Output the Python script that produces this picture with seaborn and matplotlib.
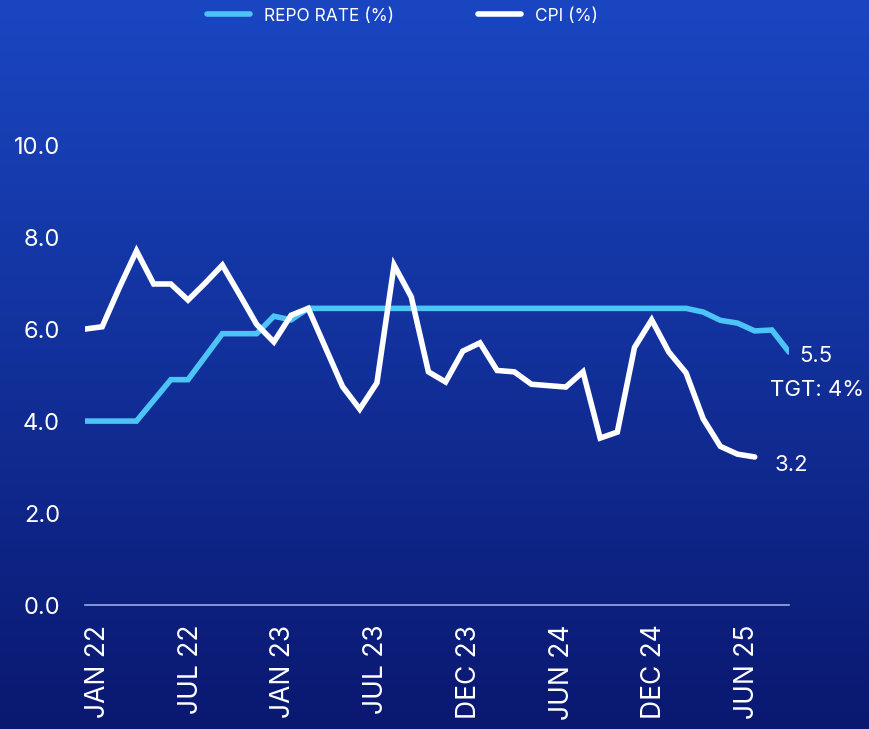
import numpy as np
import pandas as pd
import matplotlib
matplotlib.use("Agg")
from matplotlib import pyplot as plt
from matplotlib.colors import LinearSegmentedColormap
import seaborn as sns

# data (one point per period)
repo_rate = [4.0, 4.0, 4.0, 4.0, 4.45, 4.9, 4.9, 5.4, 5.9, 5.9,
             5.9, 6.28, 6.2, 6.45, 6.45, 6.45, 6.45, 6.45, 6.45, 6.45,
             6.45, 6.45, 6.45, 6.45, 6.45, 6.45, 6.45, 6.45, 6.45, 6.45,
             6.45, 6.45, 6.45, 6.45, 6.45, 6.45, 6.37, 6.19, 6.13, 5.96,
             5.98, 5.5]
cpi = [6.0, 6.05, 6.9, 7.7, 6.98, 6.98, 6.63, 7.0, 7.39, 6.75,
       6.1, 5.72, 6.3, 6.45, 5.6, 4.75, 4.26, 4.83, 7.39, 6.7,
       5.07, 4.85, 5.52, 5.7, 5.1, 5.07, 4.8, 4.77, 4.74, 5.07,
       3.63, 3.76, 5.6, 6.2, 5.5, 5.05, 4.05, 3.45, 3.28, 3.22]
tick_labels = ["JAN 22", "JUL 22", "JAN 23", "JUL 23",
               "DEC 23", "JUN 24", "DEC 24", "JUN 25"]
target_label = "TGT: 4%"
y_ticks = [0, 2, 4, 6, 8, 10]

repo_df = pd.DataFrame({"period": np.arange(len(repo_rate)), "value": repo_rate})
cpi_df = pd.DataFrame({"period": np.arange(len(cpi)), "value": cpi})

sns.set_theme(style="white")
plt.rcParams['font.family'] = ['Inter', 'DejaVu Sans']

REPO_C = "#4cc4f5"
TXT = "white"

fig = plt.figure(figsize=(8.69, 7.29), dpi=100)

# gradient background
bg = fig.add_axes([0, 0, 1, 1], zorder=-10)
grad = LinearSegmentedColormap.from_list("bg", ["#1a46c2", "#12309a", "#0a1870"])
bg.imshow(np.linspace(0, 1, 256).reshape(-1, 1), aspect="auto", cmap=grad,
          extent=[0, 1, 0, 1])
bg.set_axis_off()

ax = fig.add_axes([0.0978, 0.170, 0.8102, 0.631])
ax.set_facecolor("none")

sns.lineplot(data=repo_df, x="period", y="value", ax=ax, color=REPO_C,
             linewidth=3.0, label="REPO RATE (%)",
             solid_capstyle="round", solid_joinstyle="miter")
sns.lineplot(data=cpi_df, x="period", y="value", ax=ax, color=TXT,
             linewidth=2.0, label="CPI (%)",
             solid_capstyle="round", solid_joinstyle="miter")

ax.set_xlim(0, len(repo_rate) - 1)
ax.set_ylim(0, 10)
ax.set_yticks(y_ticks)
ax.set_yticklabels([f"{v:.1f}" for v in y_ticks], color=TXT, fontsize=17)
ax.set_xticks(np.linspace(0.75, 38.55, len(tick_labels)))
ax.set_xticklabels(tick_labels, rotation=90, color=TXT, fontsize=19,
                   va="top")
ax.tick_params(axis="both", length=0)
ax.tick_params(axis="y", pad=18)
ax.tick_params(axis="x", pad=14)
ax.set_xlabel("")
ax.set_ylabel("")
for s in ["top", "right", "left"]:
    ax.spines[s].set_visible(False)
ax.spines["bottom"].set_color("#9aa8e6")
ax.spines["bottom"].set_linewidth(1.2)

# end labels
n_r = len(repo_rate) - 1
n_c = len(cpi) - 1
ax.annotate(f"{repo_rate[-1]:.1f}", xy=(n_r, repo_rate[-1]), xytext=(7, -3),
            textcoords="offset points", color=TXT, fontsize=16,
            ha="left", va="center", annotation_clip=False)
ax.annotate(target_label, xy=(n_r, repo_rate[-1]), xytext=(-14, -27),
            textcoords="offset points", color=TXT, fontsize=16,
            ha="left", va="center", annotation_clip=False)
ax.annotate(f"{cpi[-1]:.1f}", xy=(n_c, cpi[-1]), xytext=(14, -6),
            textcoords="offset points", color=TXT, fontsize=16,
            ha="left", va="center", annotation_clip=False)

# legend on top
handles, labels = ax.get_legend_handles_labels()
ax.get_legend().remove()
for h in handles:
    h.set_linewidth(4)
    h.set_solid_capstyle("round")
leg = fig.legend(handles, labels, loc="center", bbox_to_anchor=(0.463, 0.978),
                 ncol=2, frameon=False, fontsize=12.5, handlelength=2.5,
                 handletextpad=0.8, columnspacing=4.8)
for t in leg.get_texts():
    t.set_color(TXT)

fig.savefig("out.png", dpi=100)
